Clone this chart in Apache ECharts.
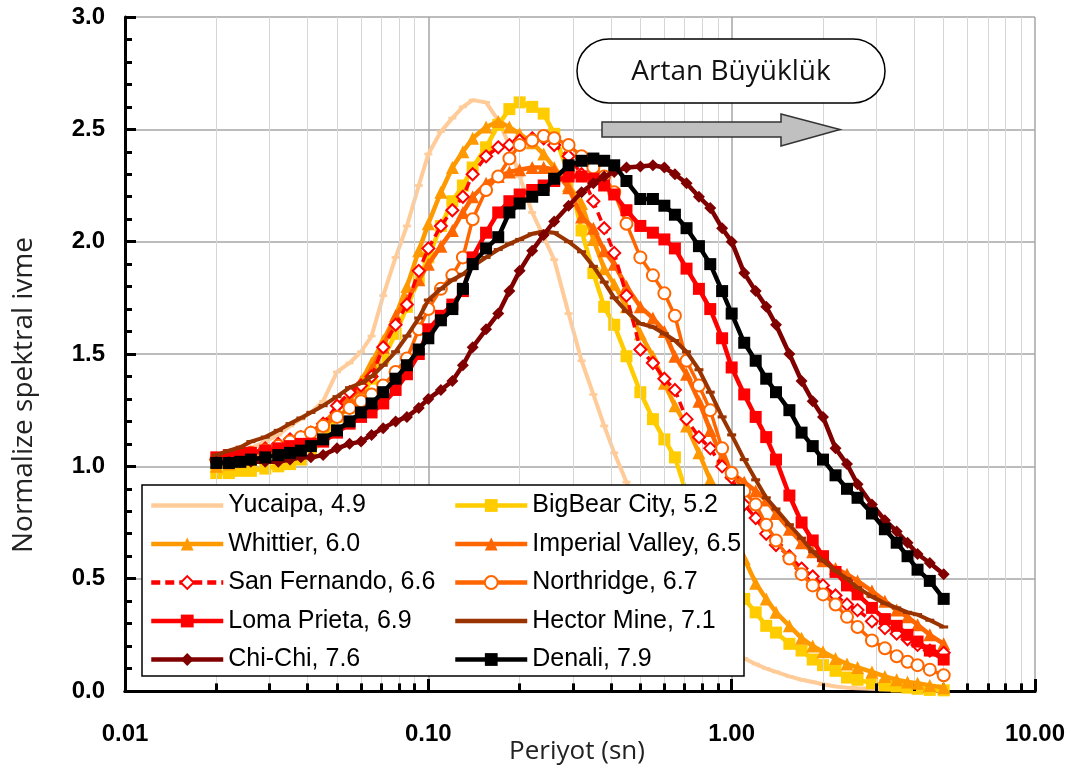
<!DOCTYPE html>
<html>
<head>
<meta charset="utf-8">
<script src="https://cdn.jsdelivr.net/npm/echarts@6/dist/echarts.min.js"></script>
<style>html,body{margin:0;padding:0;background:#fff}#c{width:1073px;height:776px}</style>
</head>
<body>
<div id="c"></div>
<script>
// ---- data ----
const periods = [0.020,0.022,0.024,0.026,0.029,0.032,0.035,0.038,0.041,0.045,
  0.050,0.055,0.060,0.065,0.071,0.078,0.085,0.093,0.10,0.11,
  0.12,0.13,0.14,0.155,0.17,0.185,0.20,0.22,0.24,0.26,
  0.29,0.32,0.35,0.38,0.41,0.45,0.50,0.55,0.60,0.65,
  0.71,0.78,0.85,0.93,1.0,1.1,1.2,1.3,1.4,1.55,
  1.7,1.85,2.0,2.2,2.4,2.6,2.9,3.2,3.5,3.8,
  4.1,4.5,5.0];

const yucaipa = [1.03,1.04,1.06,1.08,1.11,1.14,1.18,1.21,1.24,1.29,
  1.42,1.46,1.51,1.58,1.76,1.93,2.07,2.25,2.39,2.49,
  2.55,2.60,2.63,2.62,2.54,2.43,2.29,2.13,2.02,1.92,
  1.68,1.47,1.32,1.18,1.06,0.93,0.78,0.65,0.54,0.45,
  0.37,0.30,0.25,0.21,0.18,0.145,0.12,0.10,0.085,0.065,
  0.05,0.04,0.03,0.02,0.015,0.012,0.01,0.008,0.005,0.004,
  0.003,0.002,0.001];

const bigBear = [0.97,0.97,0.98,0.98,0.99,1.00,1.01,1.03,1.06,1.12,
  1.22,1.26,1.30,1.39,1.48,1.59,1.71,1.83,1.93,2.07,
  2.18,2.25,2.33,2.42,2.52,2.59,2.62,2.60,2.57,2.48,
  2.30,2.05,1.86,1.71,1.63,1.49,1.33,1.21,1.12,1.04,
  0.88,0.78,0.68,0.58,0.51,0.41,0.35,0.29,0.26,0.21,
  0.18,0.14,0.115,0.09,0.06,0.05,0.035,0.025,0.02,0.015,
  0.01,0.005,0.003];

const whittier = [1.00,1.01,1.02,1.03,1.05,1.07,1.09,1.11,1.14,1.18,
  1.25,1.31,1.38,1.46,1.56,1.67,1.80,1.96,2.08,2.22,
  2.33,2.40,2.46,2.51,2.535,2.51,2.48,2.44,2.39,2.33,
  2.25,2.17,2.01,1.88,1.81,1.71,1.59,1.49,1.37,1.27,
  1.18,1.06,0.94,0.82,0.72,0.59,0.48,0.41,0.35,0.29,
  0.235,0.20,0.175,0.145,0.12,0.105,0.085,0.065,0.05,0.04,
  0.035,0.025,0.015];

const imperial = [1.02,1.03,1.04,1.05,1.07,1.09,1.11,1.13,1.15,1.19,
  1.25,1.30,1.35,1.43,1.53,1.67,1.74,1.83,1.90,1.98,
  2.05,2.13,2.20,2.26,2.29,2.31,2.32,2.33,2.33,2.32,
  2.24,2.11,2.06,1.96,1.90,1.80,1.71,1.66,1.60,1.49,
  1.41,1.29,1.16,1.04,0.97,0.93,0.89,0.85,0.79,0.72,
  0.66,0.62,0.58,0.545,0.52,0.49,0.445,0.40,0.36,0.33,
  0.295,0.25,0.21];

const sanFernando = [1.03,1.04,1.05,1.06,1.08,1.10,1.12,1.13,1.15,1.19,
  1.27,1.33,1.36,1.40,1.53,1.63,1.72,1.87,1.97,2.07,
  2.14,2.20,2.30,2.38,2.42,2.43,2.45,2.46,2.46,2.43,
  2.38,2.30,2.18,2.06,1.95,1.76,1.52,1.46,1.39,1.34,
  1.21,1.13,1.08,1.00,0.95,0.83,0.77,0.70,0.65,0.60,
  0.545,0.51,0.47,0.425,0.385,0.36,0.31,0.28,0.255,0.23,
  0.205,0.18,0.17];

const northridge = [1.03,1.04,1.05,1.06,1.07,1.09,1.11,1.13,1.15,1.18,
  1.22,1.26,1.29,1.32,1.36,1.42,1.48,1.61,1.70,1.79,
  1.85,1.93,2.10,2.23,2.29,2.37,2.43,2.45,2.47,2.46,
  2.43,2.38,2.33,2.29,2.22,2.08,1.93,1.85,1.77,1.67,
  1.47,1.36,1.25,1.08,0.97,0.89,0.83,0.74,0.67,0.59,
  0.52,0.47,0.43,0.385,0.33,0.285,0.225,0.19,0.155,0.13,
  0.115,0.095,0.07];

const lomaPrieta = [1.04,1.05,1.06,1.06,1.07,1.08,1.09,1.10,1.10,1.11,
  1.15,1.19,1.22,1.24,1.28,1.34,1.41,1.50,1.61,1.67,
  1.72,1.78,1.93,2.04,2.13,2.18,2.21,2.23,2.25,2.27,
  2.29,2.29,2.28,2.25,2.21,2.14,2.07,2.04,2.01,1.97,
  1.88,1.79,1.70,1.57,1.44,1.32,1.22,1.13,1.03,0.87,
  0.75,0.67,0.60,0.53,0.47,0.43,0.37,0.32,0.29,0.25,
  0.22,0.18,0.14];

const hectorMine = [1.05,1.07,1.085,1.11,1.13,1.16,1.19,1.215,1.24,1.27,
  1.31,1.35,1.37,1.40,1.45,1.51,1.58,1.66,1.74,1.79,
  1.83,1.855,1.89,1.93,1.965,1.99,2.01,2.035,2.045,2.04,
  2.00,1.955,1.89,1.82,1.75,1.69,1.635,1.62,1.59,1.56,
  1.51,1.43,1.33,1.22,1.14,1.03,0.94,0.86,0.81,0.74,
  0.68,0.62,0.58,0.535,0.50,0.46,0.42,0.39,0.37,0.35,
  0.34,0.315,0.285];

const chiChi = [1.02,1.02,1.02,1.02,1.02,1.02,1.03,1.04,1.04,1.05,
  1.08,1.10,1.11,1.14,1.17,1.20,1.22,1.26,1.30,1.34,
  1.38,1.45,1.53,1.61,1.68,1.78,1.87,1.96,2.03,2.09,
  2.16,2.22,2.26,2.29,2.31,2.33,2.335,2.34,2.33,2.30,
  2.26,2.20,2.15,2.06,2.00,1.86,1.78,1.71,1.63,1.50,
  1.38,1.29,1.22,1.08,1.01,0.92,0.83,0.76,0.71,0.66,
  0.61,0.57,0.52];

const denali = [1.015,1.015,1.02,1.03,1.04,1.05,1.06,1.07,1.09,1.12,
  1.16,1.20,1.24,1.28,1.33,1.39,1.45,1.52,1.57,1.65,
  1.70,1.79,1.90,1.97,2.02,2.13,2.17,2.20,2.23,2.28,
  2.34,2.36,2.37,2.36,2.34,2.27,2.19,2.19,2.16,2.12,
  2.06,1.98,1.90,1.78,1.68,1.55,1.47,1.39,1.33,1.25,
  1.15,1.09,1.03,0.96,0.90,0.86,0.79,0.72,0.66,0.60,
  0.54,0.49,0.41];

const seriesNames = ['Yucaipa, 4.9','BigBear City, 5.2','Whittier, 6.0','Imperial Valley, 6.5',
  'San Fernando, 6.6','Northridge, 6.7','Loma Prieta, 6.9','Hector Mine, 7.1','Chi-Chi, 7.6','Denali, 7.9'];
const seriesValues = [yucaipa, bigBear, whittier, imperial, sanFernando, northridge, lomaPrieta, hectorMine, chiChi, denali];

const xTickValues = [0.01, 0.1, 1, 10];
const xTickLabels = ['0.01', '0.10', '1.00', '10.00'];
const yTickLabels = ['0.0', '0.5', '1.0', '1.5', '2.0', '2.5', '3.0'];
const minorX = [0.02,0.03,0.04,0.05,0.06,0.07,0.08,0.09,0.2,0.3,0.4,0.5,0.6,0.7,0.8,0.9,2,3,4,5,6,7,8,9];
const legendLeft = ['Yucaipa, 4.9','Whittier, 6.0','San Fernando, 6.6','Loma Prieta, 6.9','Chi-Chi, 7.6'];
const legendRight = ['BigBear City, 5.2','Imperial Valley, 6.5','Northridge, 6.7','Hector Mine, 7.1','Denali, 7.9'];
const noSymbolInLegend = ['Yucaipa, 4.9','Hector Mine, 7.1'];

// ---- styles ----
const dash = 'path://M0,0 L7,0 L7,2.4 L0,2.4 Z';
const styles = [
  {color:'#FFCC99', symbol: dash, size: 8, width: 4},
  {color:'#FFCC00', symbol:'rect', size: 12, width: 4.5},
  {color:'#FF9900', symbol:'triangle', size: 13, width: 4.5},
  {color:'#FF6600', symbol:'triangle', size: 13, width: 4.5},
  {color:'#FF0000', symbol:'emptyDiamond', size: 12, width: 3.5, dashed: true},
  {color:'#FF6600', symbol:'emptyCircle', size: 12, width: 3.5},
  {color:'#FF0000', symbol:'rect', size: 12, width: 4.5},
  {color:'#993300', symbol: dash, size: 9, width: 4},
  {color:'#800000', symbol:'diamond', size: 12, width: 4.5},
  {color:'#000000', symbol:'rect', size: 12, width: 4.5}
];

const chart = echarts.init(document.getElementById('c'), null, {renderer:'canvas'});

const dataSeries = seriesNames.map((name, i) => {
  const st = styles[i];
  return {
    name: name,
    type: 'line',
    data: periods.map((p, k) => [p, seriesValues[i][k]]),
    symbol: st.symbol,
    symbolSize: st.size,
    symbolKeepAspect: true,
    showSymbol: true,
    showAllSymbol: true,
    z: 3 + i,
    lineStyle: {color: st.color, width: st.width, type: st.dashed ? [9, 5] : 'solid'},
    itemStyle: {color: st.color, borderWidth: st.symbol.indexOf('empty') === 0 ? 2.2 : 0},
    emphasis: {disabled: true},
    animation: false
  };
});

const tickData = [];
minorX.forEach(v => tickData.push([{coord:[v, 0]}, {coord:[v, 0.034]}]));

const gridSeries = {
  name: 'grid', type: 'line', data: [], z: 1, silent: true,
  markLine: {
    silent: true, symbol: ['none','none'], label: {show:false}, animation: false,
    lineStyle: {color:'#d6d6d6', width: 1, type:'solid'},
    emphasis: {disabled: true},
    data: minorX.map(v => ({xAxis: v}))
  }
};
const tickSeries = {
  name: 'ticks', type: 'line', data: [], z: 20, silent: true,
  markLine: {
    silent: true, symbol: ['none','none'], label: {show:false}, animation: false,
    lineStyle: {color:'#000', width: 3, type:'solid'},
    emphasis: {disabled: true},
    data: tickData
  }
};

const legendBase = {
  orient: 'vertical', itemWidth: 72, itemHeight: 16, itemGap: 13.5, padding: 0,
  selectedMode: false, z: 60,
  lineStyle: {width: 4.5},
  textStyle: {fontSize: 25, fontFamily: 'Liberation Sans, Arial, sans-serif', color: '#000', lineHeight: 24}
};
function legendItems(names) {
  return names.map(n => noSymbolInLegend.indexOf(n) >= 0 ? {name: n, itemStyle: {opacity: 0}} : {name: n});
}

function xLabel(v) {
  let best = 0, bd = Infinity;
  xTickValues.forEach((t, i) => { const d = Math.abs(Math.log10(v) - Math.log10(t)); if (d < bd) { bd = d; best = i; } });
  return xTickLabels[best];
}

chart.setOption({
  backgroundColor: '#fff',
  animation: false,
  grid: {left: 125, right: 38, top: 17, bottom: 85, containLabel: false},
  xAxis: [{
    type: 'log', logBase: 10, min: 0.01, max: 10,
    axisLine: {show: true, onZero: false, lineStyle: {color:'#000', width: 3}},
    axisTick: {show: true, inside: true, length: 12, lineStyle: {color:'#000', width: 3}},
    minorTick: {show: false},
    splitLine: {show: true, lineStyle: {color:'#a6a6a6', width: 1.5}},
    axisLabel: {margin: 31, formatter: xLabel, fontSize: 24, fontWeight: 'bold', fontFamily: 'Liberation Sans, Arial, sans-serif', color: '#000'}
  }, {
    type: 'log', logBase: 10, min: 0.01, max: 10, position: 'top',
    axisLine: {show: true, lineStyle: {color:'#000', width: 3}},
    axisTick: {show: false}, axisLabel: {show: false}, splitLine: {show: false}
  }],
  yAxis: {
    type: 'value', min: 0, max: 3, interval: 0.5,
    axisLine: {show: true, lineStyle: {color:'#000', width: 3}},
    axisTick: {show: true, inside: true, length: 11, lineStyle: {color:'#000', width: 3}},
    minorTick: {show: true, splitNumber: 5, length: 7, lineStyle: {color:'#000', width: 3}},
    splitLine: {show: true, lineStyle: {color:'#a6a6a6', width: 1.5}},
    axisLabel: {margin: 20, formatter: v => yTickLabels[Math.round(v / 0.5)], fontSize: 24, fontWeight: 'bold', fontFamily: 'Liberation Sans, Arial, sans-serif', color: '#000'}
  },
  legend: [
    Object.assign({}, legendBase, {data: legendItems(legendLeft), left: 149, top: 493}),
    Object.assign({}, legendBase, {data: legendItems(legendRight), left: 453, top: 493})
  ],
  graphic: [
    {type:'rect', z: 50, shape:{x:142, y:485, width:602, height:191}, style:{fill:'#fff', stroke:'#000', lineWidth:1.5}},
    {type:'rect', z: 50, shape:{x:577, y:39, width:308, height:64, r:32}, style:{fill:'#fff', stroke:'#000', lineWidth:1.5}},
    {type:'text', z: 51, style:{text:'Artan Büyüklük', x:731, y:72, align:'center', verticalAlign:'middle', fontSize:28, fontFamily:'Open Sans, sans-serif', fill:'#111'}},
    {type:'polygon', z: 50, shape:{points:[[602,122],[781,122],[781,114],[840,129.5],[781,146],[781,137],[602,137]]}, style:{fill:'#c0c0c0', stroke:'#333', lineWidth:1.5}},
    {type:'text', z: 51, style:{text:'Periyot (sn)', x:577, y:752, align:'center', verticalAlign:'middle', fontSize:26, fontFamily:'Open Sans, sans-serif', fill:'#222'}},
    {type:'text', z: 51, x: 24, y: 395, rotation: Math.PI / 2, style:{text:'Normalize spektral ivme', x:0, y:0, align:'center', verticalAlign:'middle', fontSize:28, fontFamily:'Open Sans, sans-serif', fill:'#222'}}
  ],
  series: [gridSeries].concat(dataSeries, [tickSeries])
});
</script>
</body>
</html>
